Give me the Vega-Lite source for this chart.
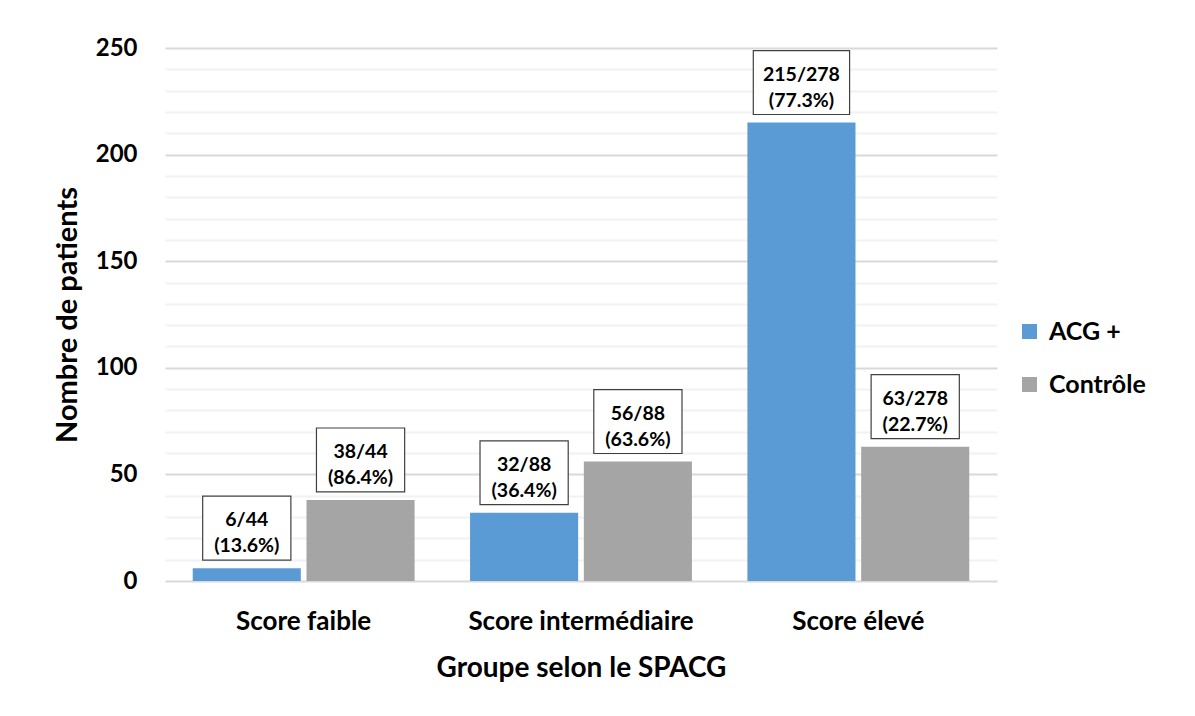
{
  "$schema": "https://vega.github.io/schema/vega-lite/v6.json",
  "width": 832,
  "height": 533,
  "autosize": {"type": "none"},
  "padding": {"left": 165, "top": 48, "right": 198, "bottom": 135},
  "background": "white",
  "config": {"view": {"stroke": null}, "font": "Lato"},
  "data": {
    "values": [
      {"group": "Score faible", "series": "ACG +", "value": 6, "label": "6/44\n(13.6%)"},
      {"group": "Score faible", "series": "Contrôle", "value": 38, "label": "38/44\n(86.4%)"},
      {"group": "Score intermédiaire", "series": "ACG +", "value": 32, "label": "32/88\n(36.4%)"},
      {"group": "Score intermédiaire", "series": "Contrôle", "value": 56, "label": "56/88\n(63.6%)"},
      {"group": "Score élevé", "series": "ACG +", "value": 215, "label": "215/278\n(77.3%)"},
      {"group": "Score élevé", "series": "Contrôle", "value": 63, "label": "63/278\n(22.7%)"}
    ]
  },
  "encoding": {
    "x": {
      "field": "group",
      "type": "nominal",
      "sort": ["Score faible", "Score intermédiaire", "Score élevé"],
      "scale": {"paddingInner": 0.2, "paddingOuter": 0.1},
      "axis": {
        "title": "Groupe selon le SPACG",
        "labelAngle": 0,
        "labelFontSize": 26,
        "labelFontWeight": "bold",
        "labelColor": "black",
        "labelPadding": 27,
        "labelLimit": 0,
        "ticks": false,
        "domain": false,
        "titleFontSize": 28,
        "titleFontWeight": "bold",
        "titleColor": "black",
        "titlePadding": 20
      }
    },
    "xOffset": {"field": "series", "sort": ["ACG +", "Contrôle"], "scale": {"paddingInner": 0.05}},
    "y": {
      "field": "value",
      "type": "quantitative",
      "scale": {"domain": [0, 250], "nice": false},
      "axis": {
        "title": "Nombre de patients",
        "values": [0, 10, 20, 30, 40, 50, 60, 70, 80, 90, 100, 110, 120, 130, 140, 150, 160, 170, 180, 190, 200, 210, 220, 230, 240, 250],
        "labelExpr": "datum.value % 50 === 0 ? datum.label : ''",
        "labelFontSize": 24,
        "labelFontWeight": "bold",
        "labelColor": "black",
        "labelPadding": 28,
        "ticks": false,
        "domain": false,
        "grid": true,
        "gridWidth": 2,
        "gridColor": {"condition": {"test": "datum.value % 50 === 0", "value": "#d9d9d9"}, "value": "#f2f2f2"},
        "titleFontSize": 29,
        "titleFontWeight": "bold",
        "titleColor": "black",
        "titlePadding": 13
      }
    }
  },
  "layer": [
    {
      "mark": {"type": "bar"},
      "encoding": {
        "color": {
          "field": "series",
          "type": "nominal",
          "sort": ["ACG +", "Contrôle"],
          "scale": {"domain": ["ACG +", "Contrôle"], "range": ["#5B9BD5", "#A5A5A5"]},
          "legend": {
            "title": null,
            "orient": "none",
            "legendX": 852,
            "legendY": 271,
            "symbolType": "square",
            "symbolSize": 225,
            "symbolStrokeWidth": 0,
            "labelFontSize": 25,
            "labelFontWeight": "bold",
            "labelColor": "black",
            "labelOffset": 7,
            "rowPadding": 27
          }
        }
      }
    },
    {
      "mark": {"type": "point", "filled": true, "fill": "white", "stroke": "#404040", "strokeWidth": 1.2, "opacity": 1, "size": 8100},
      "encoding": {
        "shape": {
          "condition": {"test": "datum.value > 200", "value": "M-1.07,-1.6L1.07,-1.6L1.07,-0.18L-1.07,-0.18Z"},
          "value": "M-0.98,-1.6L0.98,-1.6L0.98,-0.18L-0.98,-0.18Z"
        }
      }
    },
    {
      "mark": {"type": "text", "dy": -48, "baseline": "middle", "align": "center", "fontSize": 19.5, "fontWeight": "bold", "color": "black", "lineBreak": "\n", "lineHeight": 26},
      "encoding": {"text": {"field": "label"}}
    }
  ]
}
